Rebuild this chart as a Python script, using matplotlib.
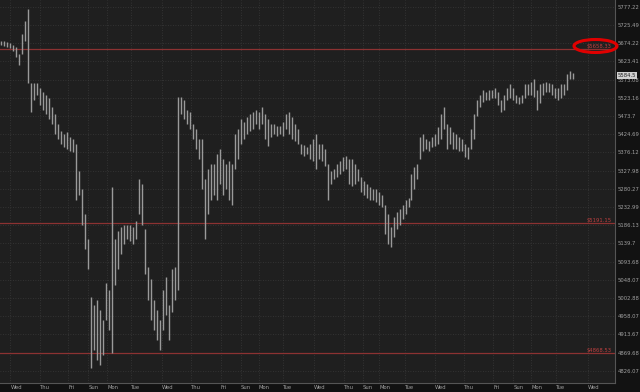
import numpy as np
import matplotlib
matplotlib.use('Agg')
import matplotlib.pyplot as plt
from matplotlib.patches import Ellipse

# bar highs / lows (one bar every ~3 px)
highs = [5680, 5680, 5677, 5674, 5669, 5663, 5644, 5699, 5736, 5772,
         5563, 5565, 5563, 5551, 5540, 5532, 5524, 5497, 5478, 5452,
         5433, 5425, 5430, 5417, 5412, 5398, 5326, 5279, 5214, 5150,
         5006, 4986, 4998, 4974, 4949, 5041, 5023, 5286, 5150, 5171,
         5181, 5188, 5186, 5188, 5181, 5196, 5305, 5292, 5176, 5079,
         5049, 4998, 4974, 4949, 5023, 5056, 4986, 5074, 5079, 5526,
         5526, 5518, 5491, 5486, 5452, 5438, 5412, 5412, 5305, 5332,
         5345, 5345, 5372, 5385, 5358, 5345, 5353, 5345, 5425, 5438,
         5465, 5459, 5470, 5478, 5486, 5491, 5486, 5499, 5478, 5465,
         5452, 5452, 5446, 5446, 5457, 5478, 5486, 5470, 5452, 5438,
         5398, 5396, 5390, 5398, 5412, 5425, 5398, 5398, 5385, 5345,
         5326, 5332, 5345, 5353, 5364, 5366, 5358, 5358, 5345, 5332,
         5311, 5300, 5292, 5284, 5279, 5279, 5273, 5265, 5239, 5214,
         5181, 5206, 5219, 5227, 5239, 5252, 5257, 5318, 5337, 5345,
         5417, 5425, 5412, 5406, 5417, 5425, 5444, 5478, 5497, 5452,
         5444, 5430, 5425, 5417, 5412, 5398, 5390, 5438, 5478, 5518,
         5532, 5546, 5540, 5546, 5546, 5551, 5540, 5518, 5532, 5551,
         5560, 5551, 5532, 5526, 5532, 5560, 5560, 5568, 5574, 5546,
         5560, 5565, 5568, 5563, 5560, 5551, 5551, 5560, 5560, 5588,
         5596, 5591]
lows = [5669, 5666, 5663, 5660, 5652, 5635, 5613, 5644, 5680, 5565,
        5486, 5518, 5532, 5505, 5491, 5478, 5465, 5452, 5425, 5412,
        5398, 5390, 5385, 5380, 5377, 5252, 5265, 5188, 5125, 5074,
        4833, 4876, 4852, 4840, 4864, 4949, 4925, 4869, 5036, 5074,
        5112, 5138, 5150, 5145, 5138, 5150, 5214, 5188, 5062, 4998,
        4949, 4925, 4901, 4876, 4925, 4962, 4901, 4969, 4998, 5023,
        5478, 5465, 5452, 5438, 5412, 5385, 5358, 5279, 5150, 5214,
        5252, 5265, 5252, 5292, 5265, 5279, 5252, 5239, 5332, 5358,
        5398, 5412, 5425, 5433, 5438, 5452, 5438, 5452, 5412, 5393,
        5417, 5425, 5420, 5425, 5420, 5438, 5425, 5412, 5406, 5398,
        5372, 5366, 5372, 5358, 5353, 5332, 5358, 5353, 5340, 5252,
        5292, 5305, 5311, 5318, 5326, 5332, 5292, 5287, 5292, 5300,
        5273, 5265, 5257, 5252, 5252, 5247, 5239, 5232, 5163, 5138,
        5130, 5155, 5176, 5188, 5201, 5214, 5234, 5252, 5279, 5305,
        5358, 5380, 5385, 5380, 5390, 5393, 5398, 5412, 5438, 5385,
        5398, 5385, 5385, 5380, 5380, 5364, 5358, 5385, 5412, 5473,
        5497, 5513, 5518, 5518, 5524, 5524, 5505, 5486, 5491, 5518,
        5524, 5518, 5510, 5507, 5510, 5524, 5532, 5532, 5526, 5491,
        5510, 5532, 5540, 5538, 5532, 5524, 5518, 5524, 5532, 5546,
        5574, 5574]

yticks = [5777.22, 5725.49, 5674.22, 5623.41, 5573.08, 5523.16, 5473.7,
          5424.69, 5376.12, 5327.98, 5280.27, 5232.99, 5186.13, 5139.7,
          5093.68, 5048.07, 5002.88, 4958.07, 4913.67, 4869.68, 4826.07]
levels = [5658.33, 5191.15, 4868.53]
last_price = 5584.5

day_labels = ['Wed', 'Thu', 'Fri', 'Sun', 'Mon', 'Tue', 'Wed', 'Thu', 'Fri', 'Sun',
              'Mon', 'Tue', 'Wed', 'Thu', 'Sun', 'Mon', 'Tue', 'Wed', 'Thu', 'Fri',
              'Sun', 'Mon', 'Tue', 'Wed']
# bar index where each day starts
day_pos = [3.0, 12.7, 22.3, 29.0, 35.3, 43.3, 53.7, 63.3, 73.3, 80.0,
           86.0, 94.0, 104.3, 114.3, 120.7, 126.3, 134.7, 144.7, 154.7, 164.3,
           171.0, 177.0, 185.3, 196.0]

bg = '#1f1f1f'
outer = '#121212'
grid_c = '#3a3a3a'
txt_c = '#a0a0a0'
red = '#8c3232'

fig = plt.figure(figsize=(6.4, 3.92), dpi=100, facecolor=outer)
ax = fig.add_axes([0, 9/392, 615/640, 383/392], facecolor=bg)

x = np.arange(len(highs))
ax.vlines(x, lows, highs, colors='#9a9a9a', lw=1.0, zorder=3)

ax.set_yscale('log')
ax.set_ylim(4797, 5797)
ax.set_xlim(-0.5, 205)
ax.yaxis.set_minor_locator(matplotlib.ticker.NullLocator())
ax.set_yticks(yticks)
ax.set_yticklabels([str(v) for v in yticks])
ax.yaxis.tick_right()
ax.set_xticks(day_pos)
ax.set_xticklabels(day_labels)
for lbl in ax.get_xticklabels():
    lbl.set_ha('left')
ax.tick_params(axis='both', length=0, labelsize=3.8, labelcolor=txt_c)
ax.tick_params(axis='y', pad=2)
ax.tick_params(axis='x', pad=1.5)
ax.grid(True, color=grid_c, ls=(0, (1, 2)), lw=0.6, zorder=0)

for s in ['top', 'left']:
    ax.spines[s].set_visible(False)
for s in ['right', 'bottom']:
    ax.spines[s].set_color('#555555')
    ax.spines[s].set_linewidth(0.8)

trans = ax.get_yaxis_transform()
for lv in levels:
    ax.axhline(lv, color=red, lw=0.9, zorder=2)
    ax.text(0.995, lv, '$' + format(lv, '.2f'), transform=trans, ha='right', va='bottom',
            fontsize=3.8, color='#c04040', zorder=4)

ax.text(1.004, last_price, str(last_price), transform=trans, ha='left', va='center',
        fontsize=3.8, color='#202020', zorder=5, clip_on=False,
        bbox=dict(boxstyle='square,pad=0.15', fc='#d0d0d0', ec='none'))

fig.patches.append(Ellipse((595.5/640, 1 - 46/392), 43/640, 13/392, transform=fig.transFigure,
                           fill=False, ec='#e00000', lw=2.2))

fig.savefig('out.png', dpi=100, facecolor=outer)
